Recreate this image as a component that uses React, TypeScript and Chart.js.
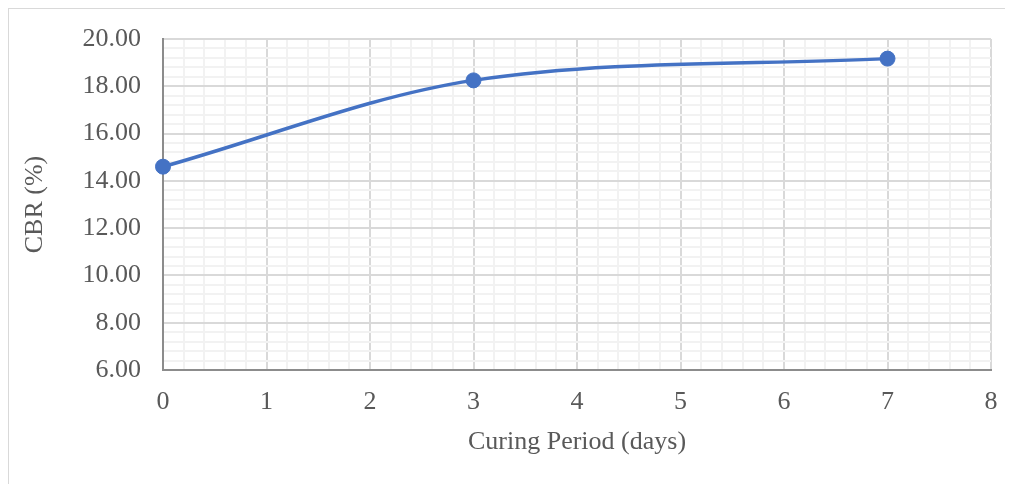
import { useEffect, useRef } from "react";
import { Chart, registerables } from "chart.js";

Chart.register(...registerables);

// Curing period (days) and measured CBR (%)
const curingDays = [0, 3, 7];
const cbrValues = [14.6, 18.25, 19.17];

// Axis ranges and label text
const xMin = 0;
const xMax = 8;
const yMin = 6;
const yMax = 20;
const xTitle = "Curing Period (days)";
const yTitle = "CBR (%)";

const FONT = "'Liberation Serif', 'Times New Roman', serif";
const TEXT = "#595959";
const MAJOR = "#d9d9d9";
const MINOR = "#f2f2f2";
const AXIS = "#8c8c8c";
const LINE = "#4472c4";

const near = (v: number, step: number) => Math.abs(v / step - Math.round(v / step)) < 1e-6;

export default function App() {
  const canvasRef = useRef<HTMLCanvasElement | null>(null);

  useEffect(() => {
    document.documentElement.style.overflow = "hidden";
    document.body.style.overflow = "hidden";
    const canvas = canvasRef.current;
    if (!canvas) return;

    const chart = new Chart(canvas, {
      type: "scatter",
      data: {
        datasets: [
          {
            label: "CBR",
            data: curingDays.map((d, i) => ({ x: d, y: cbrValues[i] })),
            showLine: true,
            cubicInterpolationMode: "monotone",
            borderColor: LINE,
            borderWidth: 3.5,
            backgroundColor: LINE,
            pointRadius: 7.5,
            pointBorderWidth: 1,
            pointBorderColor: LINE,
            pointBackgroundColor: LINE,
            clip: false,
          },
        ],
      },
      options: {
        animation: false,
        responsive: true,
        maintainAspectRatio: false,
        layout: { padding: { top: 30, right: 28, left: 0, bottom: 0 } },
        plugins: {
          legend: { display: false },
          tooltip: { enabled: false },
        },
        scales: {
          x: {
            type: "linear",
            min: xMin,
            max: xMax,
            afterFit: (scale: any) => {
              scale.height = 119;
              scale.paddingLeft = 0;
              scale.paddingRight = 0;
            },
            ticks: {
              stepSize: 0.2,
              autoSkip: false,
              maxRotation: 0,
              padding: 17,
              color: TEXT,
              font: { family: FONT, size: 26 },
              callback: (v: any) => (near(Number(v), 1) ? String(Math.round(Number(v))) : ""),
            },
            grid: {
              drawTicks: false,
              color: (ctx: any) => (near(ctx.tick.value, 1) ? MAJOR : MINOR),
              lineWidth: 2,
            },
            border: { color: AXIS, width: 2 },
            title: {
              display: true,
              text: xTitle,
              color: TEXT,
              font: { family: FONT, size: 26, weight: "normal" },
              padding: { top: 0, bottom: 31 },
            },
          },
          y: {
            type: "linear",
            min: yMin,
            max: yMax,
            afterFit: (scale: any) => {
              scale.width = 154;
              scale.paddingTop = 0;
              scale.paddingBottom = 0;
            },
            ticks: {
              stepSize: 0.4,
              autoSkip: false,
              padding: 22,
              color: TEXT,
              font: { family: FONT, size: 26 },
              callback: (v: any) => (near(Number(v), 2) ? Number(v).toFixed(2) : ""),
            },
            grid: {
              drawTicks: false,
              color: (ctx: any) => (near(ctx.tick.value, 2) ? MAJOR : MINOR),
              lineWidth: 2,
            },
            border: { color: AXIS, width: 2 },
            title: {
              display: true,
              text: yTitle,
              color: TEXT,
              font: { family: FONT, size: 26, weight: "normal" },
              padding: { top: 11, bottom: 0 },
            },
          },
        },
      },
    });

    return () => chart.destroy();
  }, []);

  return (
    <div
      style={{
        borderTop: "1px solid #d9d9d9",
        borderLeft: "1px solid #d9d9d9",
        width: 1010,
        height: 480,
        background: "#fff",
      }}
    >
      <div style={{ position: "relative", width: 1010, height: 480 }}>
        <canvas ref={canvasRef} />
      </div>
    </div>
  );
}
